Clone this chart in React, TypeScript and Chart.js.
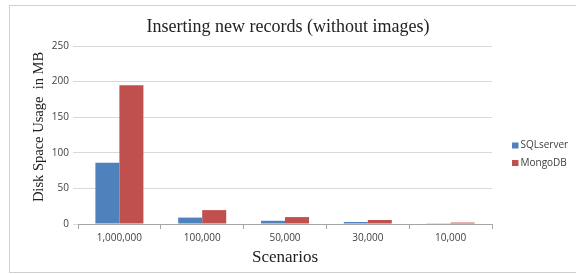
import React, { useEffect, useRef } from "react";
import { Chart, registerables } from "chart.js";

Chart.register(...registerables);

const categories = ["1,000,000", "100,000", "50,000", "30,000", "10,000"];
const sqlServer = [86, 9, 4.5, 2.8, 1];
const mongoDB = [195, 19.5, 9.7, 5.6, 2];
const yTicks = [0, 50, 100, 150, 200, 250];
const yTitle = "Disk Space Usage  in MB";

const sidePlugin = {
  id: "sideLegend",
  afterDraw(chart: any) {
    const { ctx, chartArea } = chart;
    const x = chartArea.right + 20;
    const y0 = 145.5;
    ctx.save();
    ctx.font = "10px 'Open Sans'";
    ctx.textBaseline = "middle";
    ctx.textAlign = "left";
    chart.data.datasets.forEach((ds: any, i: number) => {
      const y = y0 + i * 17.5;
      ctx.fillStyle = ds.backgroundColor;
      ctx.fillRect(x, y - 3, 6.5, 6);
      ctx.fillStyle = "#404040";
      ctx.fillText(ds.label, x + 8.5, y);
    });
    // y-axis title
    ctx.translate(39, 127);
    ctx.rotate(-Math.PI / 2);
    ctx.font = "14.5px 'Liberation Serif'";
    ctx.fillStyle = "#222";
    ctx.textAlign = "center";
    ctx.fillText(yTitle, 0, 0);
    ctx.restore();
  },
};

export default function App() {
  const ref = useRef<HTMLCanvasElement>(null);
  useEffect(() => {
    document.body.style.margin = "0";
    const chart = new Chart(ref.current!, {
      type: "bar",
      data: {
        labels: categories,
        datasets: [
          { label: "SQLserver", data: sqlServer, backgroundColor: "#4F81BD" },
          { label: "MongoDB", data: mongoDB, backgroundColor: "#C0504D" },
        ],
      },
      options: {
        animation: false,
        responsive: false,
        layout: { padding: 0 },
        datasets: { bar: { categoryPercentage: 0.58, barPercentage: 1 } },
        plugins: {
          legend: { display: false },
          tooltip: { enabled: false },
          title: {
            display: true,
            text: "Inserting new records (without images)",
            color: "#222",
            font: { family: "'Liberation Serif'", size: 18, weight: "normal" },
            padding: { top: 16.2, bottom: 8.2 },
          },
        },
        scales: {
          x: {
            afterFit: (s: any) => {
              s.height = 50;
            },
            grid: {
              offset: true,
              drawOnChartArea: false,
              tickLength: 5,
              color: "#a6a6a6",
            },
            border: { color: "#a6a6a6" },
            ticks: {
              color: "#404040",
              font: { family: "'Open Sans'", size: 10 },
              padding: 3,
              maxRotation: 0,
            },
            title: {
              display: true,
              text: "Scenarios",
              color: "#222",
              font: { family: "'Liberation Serif'", size: 17 },
              padding: { top: 0, bottom: 6.3 },
            },
          },
          y: {
            min: 0,
            max: 250,
            afterFit: (s: any) => {
              s.width = 78;
            },
            afterBuildTicks: (s: any) => {
              s.ticks = yTicks.map((v) => ({ value: v }));
            },
            grid: { color: "#d9d9d9", tickLength: 5 },
            border: { display: false },
            ticks: {
              color: "#404040",
              font: { family: "'Open Sans'", size: 10 },
              padding: 4,
            },
          },
          side: {
            type: "linear",
            position: "right",
            display: true,
            afterFit: (s: any) => {
              s.width = 84;
            },
            grid: { display: false },
            border: { display: false },
            ticks: { display: false },
          },
        },
      },
      plugins: [sidePlugin],
    });
    return () => chart.destroy();
  }, []);
  return (
    <div style={{ position: "relative", width: 576, height: 274, overflow: "hidden" }}>
      <div
        style={{
          position: "absolute",
          left: 9,
          top: 5,
          width: 620,
          height: 268,
          border: "1px solid #cfcfcf",
          boxSizing: "border-box",
        }}
      />
      <canvas ref={ref} width={576} height={274} style={{ position: "absolute", left: 0, top: 0 }} />
    </div>
  );
}
